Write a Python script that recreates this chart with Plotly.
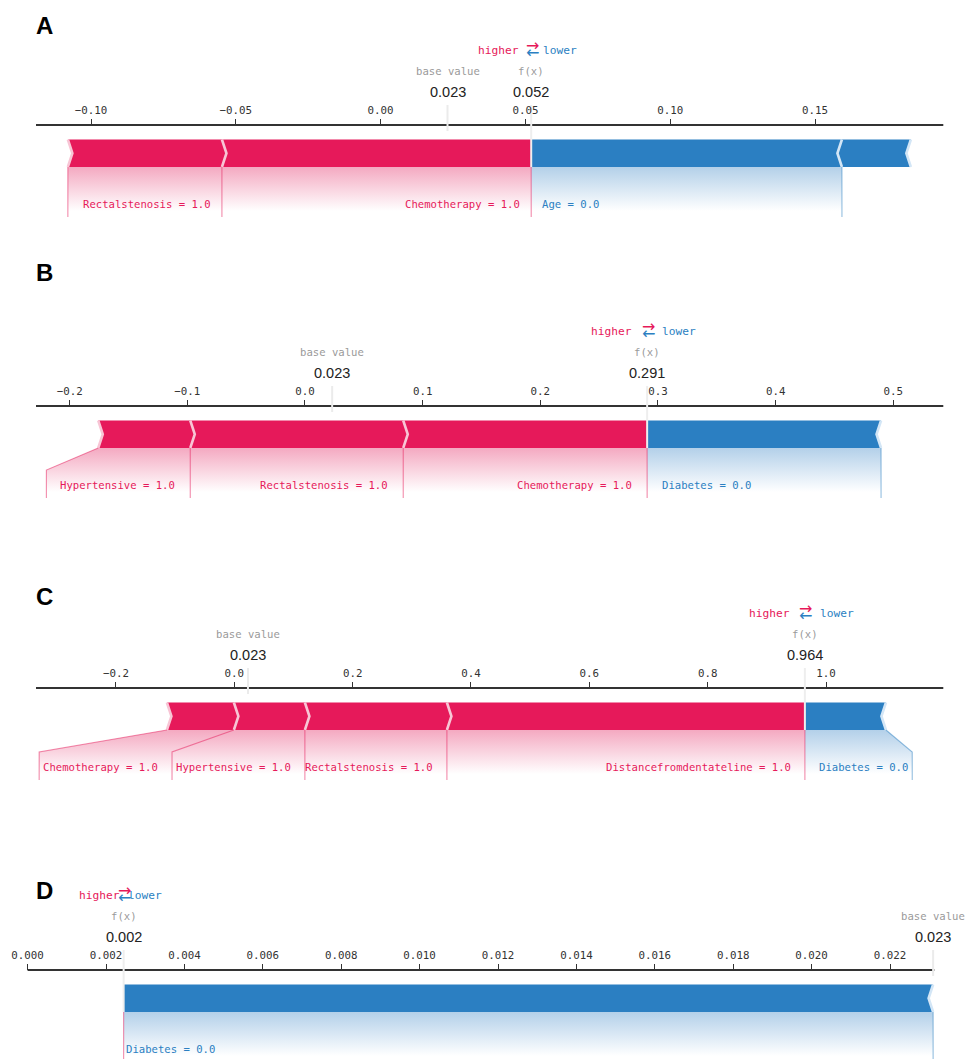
import plotly.graph_objects as go

W, H = 965, 1059
BASE_VALUE = 0.0231

# ---- Panel A ----
a_pos_features = ["Chemotherapy", "Rectalstenosis"]
a_pos_values = [1.0, 1.0]
a_pos_shap = [0.1068, 0.0532]
a_neg_features = ["Age", None]
a_neg_values = [0.0, None]
a_neg_shap = [-0.1073, -0.0238]
a_ticks = [-0.10, -0.05, 0.00, 0.05, 0.10, 0.15]

# ---- Panel B ----
b_pos_features = ["Chemotherapy", "Rectalstenosis", "Hypertensive"]
b_pos_values = [1.0, 1.0, 1.0]
b_pos_shap = [0.2073, 0.1810, 0.0782]
b_neg_features = ["Diabetes"]
b_neg_values = [0.0]
b_neg_shap = [-0.1988]
b_ticks = [-0.2, -0.1, 0.0, 0.1, 0.2, 0.3, 0.4, 0.5]

# ---- Panel C ----
c_pos_features = ["Distancefromdentateline", "Rectalstenosis", "Hypertensive", "Chemotherapy"]
c_pos_values = [1.0, 1.0, 1.0, 1.0]
c_pos_shap = [0.6050, 0.2400, 0.1200, 0.1132]
c_neg_features = ["Diabetes"]
c_neg_values = [0.0]
c_neg_shap = [-0.1370]
c_ticks = [-0.2, 0.0, 0.2, 0.4, 0.6, 0.8, 1.0]

# ---- Panel D ----
d_pos_features = []
d_pos_values = []
d_pos_shap = []
d_neg_features = ["Diabetes"]
d_neg_values = [0.0]
d_neg_shap = [-0.02065]
d_ticks = [0.000, 0.002, 0.004, 0.006, 0.008, 0.010, 0.012,
           0.014, 0.016, 0.018, 0.020, 0.022]

RED = "#E6195A"
BLUE = "#2B7FC2"
RED_PALE = "#F8C5D5"
BLUE_PALE = "#D3E6F6"
RED_LINE = "rgba(230,25,90,0.5)"
BLUE_LINE = "rgba(43,127,194,0.5)"
RED_SHADE = "#F4A9C1"
BLUE_SHADE = "#B3D0E9"
GRAY_TXT = "#9A9A9A"
MONO = "DejaVu Sans Mono"
SANS = "Liberation Sans"
LABEL_SIZE = 10.6
CHAR_W = 0.602 * LABEL_SIZE

panels = [
    dict(letter="A", letter_y=25, pos=(a_pos_features, a_pos_values, a_pos_shap),
         neg=(a_neg_features, a_neg_values, a_neg_shap), ticks=a_ticks, fmt=".2f",
         xlim=(-0.1190, 0.1943), xpx=(36.0, 943.3), yb=167, pad=9, knee=6, hl=10),
    dict(letter="B", letter_y=272, pos=(b_pos_features, b_pos_values, b_pos_shap),
         neg=(b_neg_features, b_neg_values, b_neg_shap), ticks=b_ticks, fmt=".1f",
         xlim=(-0.2286, 0.5425), xpx=(36.0, 943.3), yb=448, pad=13, knee=16, hl=13),
    dict(letter="C", letter_y=596, pos=(c_pos_features, c_pos_values, c_pos_shap),
         neg=(c_neg_features, c_neg_values, c_neg_shap), ticks=c_ticks, fmt=".1f",
         xlim=(-0.3351, 1.1982), xpx=(36.0, 943.3), yb=730, pad=12, knee=6, hl=13),
    dict(letter="D", letter_y=890, pos=(d_pos_features, d_pos_values, d_pos_shap),
         neg=(d_neg_features, d_neg_values, d_neg_shap), ticks=d_ticks, fmt=".3f",
         xlim=(0.0, 0.02313), xpx=(27.6, 934.3), yb=1012, pad=0, knee=6, hl=2),
]

fig = go.Figure()
annotations = []
BAR_H = 27.5


def line_trace(xs, ys, color, width, xa):
    return go.Scatter(x=xs, y=ys, mode="lines", line=dict(color=color, width=width),
                      xaxis=xa, yaxis="y", hoverinfo="skip", showlegend=False)


def poly_trace(xs, ys, color, xa):
    return go.Scatter(x=xs + [xs[0]], y=ys + [ys[0]], mode="lines", fill="toself",
                      fillcolor=color, line=dict(width=0), xaxis=xa, yaxis="y",
                      hoverinfo="skip", showlegend=False)


def shade_trace(xs, ys, color, y0, y1, xa):
    return go.Scatter(x=xs + [xs[0]], y=ys + [ys[0]], mode="lines", fill="toself",
                      line=dict(width=0), xaxis=xa, yaxis="y",
                      fillgradient=dict(type="vertical", start=y0, stop=y1,
                                        colorscale=[[0, color], [1, "#FFFFFF"]]),
                      hoverinfo="skip", showlegend=False)


def text_ann(text, x, xref, y, size, color, family, xanchor="center", xshift=0):
    return dict(text=text, x=x, xref=xref, y=y, yref="y", showarrow=False,
                xanchor=xanchor, yanchor="middle", xshift=xshift,
                font=dict(size=size, color=color, family=family))


layout_axes = {}
for i, p in enumerate(panels, start=1):
    xa = "x" if i == 1 else f"x{i}"
    lo, hi = p["xlim"]
    x0p, x1p = p["xpx"]
    ppu = (x1p - x0p) / (hi - lo)
    px = lambda v: x0p + (v - lo) * ppu
    dv = lambda q: lo + (q - x0p) / ppu
    yb = p["yb"]
    top, mid = yb - BAR_H, yb - BAR_H / 2
    ay = yb - 42
    sep = (hi - lo) / 200.0

    pos_f, pos_v, pos_s = p["pos"]
    neg_f, neg_v, neg_s = p["neg"]
    fx = BASE_VALUE + sum(pos_s) + sum(neg_s)

    # x axis spanning the whole figure width, drawn line limited to xlim
    layout_axes["xaxis" if i == 1 else f"xaxis{i}"] = dict(
        domain=[0, 1], range=[lo - x0p / ppu, hi + (W - x1p) / ppu],
        anchor="free", position=1 - ay / H, side="top",
        overlaying=None if i == 1 else "x",
        showgrid=False, zeroline=False, showline=False,
        tickmode="array", tickvals=p["ticks"], tickformat=p["fmt"],
        ticks="outside", ticklen=6, tickwidth=1.3, tickcolor="#333",
        tickfont=dict(family=MONO, size=10.8, color="#333"),
        ticklabelstandoff=1, automargin=False, fixedrange=True,
    )
    fig.add_trace(line_trace([lo, hi], [ay, ay], "#333", 1.8, xa))

    # ---- label layout (positive side, right-aligned labels) ----
    pos_lines, pos_texts = [], []
    start_px = px(fx)
    pre_val = fx
    box_end = fx
    pos_lines.append(([fx, fx], [yb, yb + 50]))
    for name, fval, s in zip(pos_f, pos_v, pos_s):
        if name is None:
            break
        val = pre_val - s
        text = f"{name} = {fval:.1f}"
        right_px = start_px - p["pad"]
        left_px = right_px - len(text) * CHAR_W
        pos_texts.append((text, dv(right_px)))
        if left_px > px(val):
            pos_lines.append(([val, val], [yb, yb + 50]))
            start_px = px(val)
            box_end = val
        else:
            be_px = left_px - p["knee"]
            box_end = dv(be_px)
            pos_lines.append(([val, box_end, box_end], [yb, yb + 22, yb + 50]))
            start_px = be_px
        pre_val = val
    if pos_texts:
        fig.add_trace(shade_trace([fx, pre_val, box_end, box_end, fx],
                                  [yb, yb, yb + 22, yb + 55, yb + 55],
                                  RED_SHADE, yb, yb + 44, xa))

    # ---- label layout (negative side, left-aligned labels) ----
    neg_lines, neg_texts = [], []
    start_px = px(fx)
    pre_val = fx
    box_end = fx
    for name, fval, s in zip(neg_f, neg_v, neg_s):
        if name is None:
            break
        val = pre_val + abs(s)
        text = f"{name} = {fval:.1f}"
        left_px = start_px + p["pad"]
        right_px = left_px + len(text) * CHAR_W
        neg_texts.append((text, dv(left_px)))
        if right_px < px(val):
            neg_lines.append(([val, val], [yb, yb + 50]))
            start_px = px(val)
            box_end = val
        else:
            be_px = right_px + p["knee"]
            box_end = dv(be_px)
            neg_lines.append(([val, box_end, box_end], [yb, yb + 22, yb + 50]))
            start_px = be_px
        pre_val = val
    if neg_texts:
        fig.add_trace(shade_trace([fx, pre_val, box_end, box_end, fx],
                                  [yb, yb, yb + 22, yb + 55, yb + 55],
                                  BLUE_SHADE, yb, yb + 44, xa))

    # base value marker line
    fig.add_trace(line_trace([BASE_VALUE, BASE_VALUE], [yb - 36, yb - 62], "#EBEBEB", 2, xa))

    # ---- force bars (positive) ----
    bars, seps = [], []
    pre = fx
    for k, s in enumerate(pos_s):
        left, right = pre - s, pre
        pre = left
        if k == 0:
            xs = [left, right, right, left, left + sep]
            ys = [yb, yb, top, top, mid]
        else:
            xs = [left, right, right + 0.9 * sep, right, left, left + 0.9 * sep]
            ys = [yb, yb, mid, top, top, mid]
        bars.append(poly_trace(xs, ys, RED, xa))
        seps.append(line_trace([left, left + sep, left], [yb, mid, top], RED_PALE, 2.6, xa))
    # ---- force bars (negative) ----
    pre = fx
    for k, s in enumerate(neg_s):
        left, right = pre, pre + abs(s)
        pre = right
        if k == 0:
            xs = [right, left, left, right, right - sep]
            ys = [yb, yb, top, top, mid]
        else:
            xs = [left, right, right - 0.9 * sep, right, left, left - 0.9 * sep]
            ys = [yb, yb, mid, top, top, mid]
        bars.append(poly_trace(xs, ys, BLUE, xa))
        seps.append(line_trace([right, right - sep, right], [yb, mid, top], BLUE_PALE, 2.6, xa))
    for t in bars + seps:
        fig.add_trace(t)

    for xs, ys in pos_lines:
        fig.add_trace(line_trace(xs, ys, RED_LINE, 1.1, xa))
    for xs, ys in neg_lines:
        fig.add_trace(line_trace(xs, ys, BLUE_LINE, 1.1, xa))

    # f(x) marker line
    fig.add_trace(line_trace([fx, fx], [yb, yb - 62], "#EEEEEE", 2, xa))

    # label texts
    for text, xr in pos_texts:
        annotations.append(text_ann(text, xr, xa, yb + 37, LABEL_SIZE, RED, MONO, "right"))
    for text, xl in neg_texts:
        annotations.append(text_ann(text, xl, xa, yb + 37, LABEL_SIZE, BLUE, MONO, "left"))

    # header texts
    annotations.append(text_ann("higher", fx, xa, yb - 116.5, 11.2, RED, MONO, "right", -p["hl"]))
    annotations.append(text_ann("lower", fx, xa, yb - 116.5, 11.2, BLUE, MONO, "left", p["hl"]))
    annotations.append(text_ann("\u2192", fx, xa, yb - 121.5, 16, RED, "DejaVu Sans", "center", 1))
    annotations.append(text_ann("\u2190", fx, xa, yb - 114.5, 16, BLUE, "DejaVu Sans", "center", 1))
    annotations.append(text_ann("f(x)", fx, xa, yb - 96, 10.6, GRAY_TXT, MONO))
    annotations.append(text_ann(f"{fx:.3f}", fx, xa, yb - 75, 14.5, "#222", SANS))
    annotations.append(text_ann("base value", BASE_VALUE, xa, yb - 96, 10.6, GRAY_TXT, MONO))
    annotations.append(text_ann(f"{BASE_VALUE:.3f}", BASE_VALUE, xa, yb - 75, 14.5, "#222", SANS))

    # panel letter
    annotations.append(dict(text=f"<b>{p['letter']}</b>", x=44 / W, xref="paper",
                            y=p["letter_y"], yref="y", showarrow=False,
                            xanchor="center", yanchor="middle",
                            font=dict(size=24, color="#000", family=SANS)))

fig.update_layout(
    width=W, height=H, template="none",
    margin=dict(l=0, r=0, t=0, b=0),
    paper_bgcolor="white", plot_bgcolor="white",
    showlegend=False,
    yaxis=dict(domain=[0, 1], range=[H, 0], visible=False, fixedrange=True),
    annotations=annotations,
    **layout_axes,
)

fig.write_html("out.html")
